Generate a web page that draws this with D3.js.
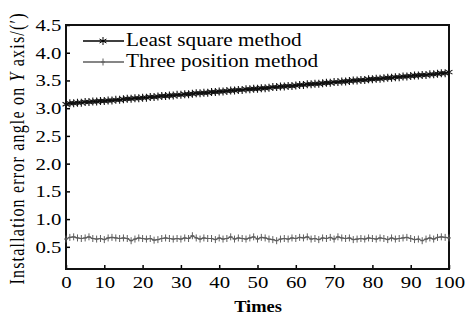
<!DOCTYPE html>
<html>
<head>
<meta charset="utf-8">
<script src="https://cdn.jsdelivr.net/npm/d3@7"></script>
<style>
body { margin: 0; background: #fff; }
text { font-family: "Liberation Serif", "Times New Roman", serif; fill: #000; }
</style>
</head>
<body>
<svg id="chart" width="468" height="315"></svg>
<script>
// Data ==================================================================
var times = d3.range(0, 101);

var leastSquare = [
	3.07,3.09,3.09,3.10,3.10,3.11,3.11,3.12,3.12,3.13,
	3.13,3.14,3.14,3.15,3.15,3.16,3.17,3.17,3.18,3.18,
	3.19,3.19,3.20,3.20,3.21,3.22,3.22,3.23,3.23,3.24,
	3.24,3.25,3.25,3.26,3.27,3.27,3.28,3.28,3.29,3.29,
	3.30,3.30,3.31,3.32,3.32,3.33,3.33,3.34,3.34,3.35,
	3.35,3.36,3.36,3.37,3.38,3.38,3.39,3.39,3.40,3.40,
	3.41,3.42,3.42,3.43,3.43,3.44,3.44,3.45,3.46,3.46,
	3.47,3.47,3.48,3.48,3.49,3.50,3.50,3.51,3.51,3.52,
	3.52,3.53,3.53,3.54,3.55,3.55,3.56,3.56,3.57,3.57,
	3.58,3.59,3.59,3.60,3.60,3.61,3.61,3.62,3.63,3.63,3.65];

var threePosition = [
	0.64,0.67,0.68,0.66,0.65,0.66,0.68,0.65,0.64,0.65,
	0.63,0.66,0.67,0.66,0.65,0.66,0.65,0.61,0.64,0.66,
	0.65,0.64,0.65,0.62,0.63,0.65,0.66,0.65,0.64,0.65,
	0.64,0.66,0.65,0.70,0.66,0.64,0.66,0.65,0.65,0.63,
	0.66,0.64,0.65,0.68,0.64,0.66,0.65,0.64,0.66,0.68,
	0.64,0.67,0.66,0.64,0.63,0.61,0.64,0.65,0.64,0.66,
	0.65,0.67,0.66,0.68,0.64,0.65,0.63,0.66,0.65,0.67,
	0.64,0.68,0.66,0.65,0.66,0.63,0.64,0.65,0.64,0.66,
	0.65,0.64,0.66,0.65,0.63,0.66,0.64,0.65,0.66,0.67,
	0.65,0.63,0.64,0.61,0.64,0.66,0.64,0.67,0.68,0.67,0.66];

var xTicks = [0, 10, 20, 30, 40, 50, 60, 70, 80, 90, 100];
var yTicks = [0.5, 1.0, 1.5, 2.0, 2.5, 3.0, 3.5, 4.0, 4.5];
var seriesNames = ["Least square method", "Three position method"];

// Layout ================================================================
var margin = {left: 66, top: 25, right: 19, bottom: 46};
var width = 468 - margin.left - margin.right;
var height = 315 - margin.top - margin.bottom;
var sx = 1.3; // horizontal stretch of the original figure's lettering

var svg = d3.select("#chart");
var g = svg.append("g").attr("transform", "translate(" + margin.left + "," + margin.top + ")");

var x = d3.scaleLinear().domain([0, 100]).range([0, width]);
var y = d3.scaleLinear().domain([0.1, 4.5]).range([height, 0]);

// axes
var xAxis = g.append("g")
	.attr("transform", "translate(0," + height + ")")
	.call(d3.axisBottom(x).tickValues(xTicks).tickSize(-4).tickSizeOuter(0));
xAxis.select(".domain").remove();
xAxis.selectAll("line").attr("stroke", "#000").attr("stroke-width", 1.5);
xAxis.selectAll("text")
	.attr("y", 19).attr("dy", 0)
	.attr("transform", "scale(" + sx + ",1)")
	.style("font-size", "16px").style("font-family", "Liberation Serif, serif").attr("fill", "#000");

var yAxis = g.append("g")
	.call(d3.axisLeft(y).tickValues(yTicks).tickFormat(d3.format(".1f")).tickSize(-4).tickSizeOuter(0));
yAxis.select(".domain").remove();
yAxis.selectAll("line").attr("stroke", "#000").attr("stroke-width", 1.5);
yAxis.selectAll("text")
	.attr("x", -3.5).attr("dy", "0.34em")
	.attr("transform", "scale(" + sx + ",1)")
	.style("font-size", "16px").style("font-family", "Liberation Serif, serif").attr("fill", "#000");

// frame
g.append("rect")
	.attr("width", width).attr("height", height)
	.attr("fill", "none").attr("stroke", "#111").attr("stroke-width", 2);

// series
var lsData = times.map(function (t, i) { return [t, leastSquare[i]]; });
var tpData = times.map(function (t, i) { return [t, threePosition[i]]; });

var line = d3.line().x(function (d) { return x(d[0]); }).y(function (d) { return y(d[1]); });

function star(r) {
	var a = r * 0.87, b = r * 0.5;
	return "M0," + (-r) + "V" + r
		+ "M" + (-a) + "," + (-b) + "L" + a + "," + b
		+ "M" + (-a) + "," + b + "L" + a + "," + (-b);
}
function plus(rx, ry) {
	return "M0," + (-ry) + "V" + ry + "M" + (-rx) + ",0H" + rx;
}

g.append("path").datum(tpData)
	.attr("d", line).attr("fill", "none").attr("stroke", "#5e5e5e").attr("stroke-width", 1.2);
g.selectAll(".tp").data(tpData).enter().append("path")
	.attr("class", "tp")
	.attr("transform", function (d) { return "translate(" + x(d[0]) + "," + y(d[1]) + ")"; })
	.attr("d", plus(2, 3.5)).attr("stroke", "#5e5e5e").attr("stroke-width", 1);

g.append("path").datum(lsData)
	.attr("d", line).attr("fill", "none").attr("stroke", "#000").attr("stroke-width", 1.6);
g.selectAll(".ls").data(lsData).enter().append("path")
	.attr("class", "ls")
	.attr("transform", function (d) { return "translate(" + x(d[0]) + "," + y(d[1]) + ")"; })
	.attr("d", star(4)).attr("stroke", "#111").attr("stroke-width", 1.1);

// legend
var legend = svg.append("g");
var legendRows = [
	{name: seriesNames[0], color: "#000", marker: star(4), y: 41},
	{name: seriesNames[1], color: "#5e5e5e", marker: plus(2, 3.5), y: 62}
];
legendRows.forEach(function (r) {
	legend.append("line")
		.attr("x1", 83).attr("x2", 124).attr("y1", r.y).attr("y2", r.y)
		.attr("stroke", r.color).attr("stroke-width", 1.4);
	legend.append("path")
		.attr("transform", "translate(103," + r.y + ")")
		.attr("d", r.marker).attr("stroke", r.color).attr("stroke-width", 1);
	legend.append("text")
		.attr("transform", "translate(126," + (r.y + 5) + ") scale(1.18,1)")
		.style("font-size", "18px")
		.text(r.name);
});

// axis titles
svg.append("text")
	.attr("transform", "translate(258,312) scale(1.15,1)")
	.attr("text-anchor", "middle")
	.style("font-size", "16px").style("font-weight", "bold")
	.text("Times");

var yLabel = svg.append("text")
	.attr("transform", "translate(24,149) rotate(-90) scale(1,1.25)")
	.attr("text-anchor", "middle")
	.attr("textLength", 271).attr("lengthAdjust", "spacing")
	.style("font-size", "16px");
yLabel.append("tspan").text("Installation error angle on ");
yLabel.append("tspan").style("font-style", "italic").text("Y");
yLabel.append("tspan").text(" axis/(′)");
</script>
</body>
</html>
